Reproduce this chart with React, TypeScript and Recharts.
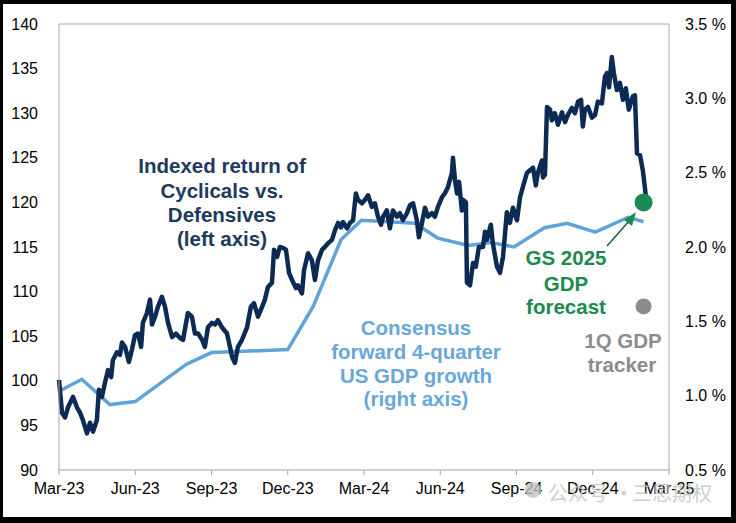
import React from 'react';
import {
  LineChart,
  Line,
  XAxis,
  YAxis,
  ReferenceLine,
  ReferenceDot,
} from 'recharts';

// x values are months since Mar-23
const xTicks = [0, 3, 6, 9, 12, 15, 18, 21, 24];
const xTickLabels = ['Mar-23', 'Jun-23', 'Sep-23', 'Dec-23', 'Mar-24', 'Jun-24', 'Sep-24', 'Dec-24', 'Mar-25'];
const leftTicks = [90, 95, 100, 105, 110, 115, 120, 125, 130, 135, 140];
const rightTicks = [0.5, 1.0, 1.5, 2.0, 2.5, 3.0, 3.5];

// Indexed return of cyclicals vs. defensives (left axis)
const cyclicals: [number, number][] = [
  [0.0, 100.1], [0.12, 96.4], [0.24, 95.9], [0.35, 97.0], [0.55, 98.2], [0.71, 97.0], [0.83, 96.4],
  [0.94, 95.6], [1.1, 94.1], [1.22, 95.3], [1.34, 94.3], [1.49, 95.6], [1.57, 99.0], [1.69, 98.2],
  [1.81, 99.8], [1.93, 101.2], [2.05, 100.4], [2.12, 102.3], [2.28, 103.2], [2.4, 102.9], [2.48, 104.3],
  [2.6, 103.8], [2.75, 102.1], [2.87, 103.5], [2.99, 105.1], [3.11, 105.3], [3.23, 103.8], [3.3, 106.5],
  [3.46, 107.6], [3.58, 109.1], [3.66, 106.3], [3.78, 107.2], [3.89, 108.3], [4.05, 109.4], [4.17, 108.3],
  [4.29, 106.5], [4.45, 104.9], [4.6, 105.3], [4.76, 104.8], [4.88, 104.6], [5.07, 107.6], [5.23, 107.2],
  [5.35, 105.3], [5.47, 105.3], [5.63, 104.6], [5.74, 103.8], [5.86, 106.0], [6.02, 106.5], [6.14, 106.3],
  [6.25, 106.8], [6.41, 106.0], [6.61, 105.3], [6.81, 102.7], [6.92, 102.0], [7.04, 103.8], [7.2, 104.6],
  [7.4, 106.0], [7.55, 108.3], [7.67, 108.7], [7.83, 107.2], [7.99, 108.3], [8.1, 109.1], [8.22, 110.5],
  [8.38, 111.0], [8.46, 114.7], [8.58, 113.9], [8.69, 115.0], [8.81, 114.9], [8.93, 114.7], [9.05, 112.1],
  [9.17, 111.3], [9.32, 110.4], [9.4, 110.7], [9.56, 109.8], [9.64, 112.4], [9.8, 114.3], [9.95, 113.5],
  [10.07, 111.3], [10.19, 113.5], [10.35, 114.7], [10.46, 115.0], [10.58, 115.4], [10.74, 115.8],
  [10.86, 116.9], [10.98, 117.7], [11.09, 117.2], [11.17, 117.8], [11.33, 117.1], [11.45, 117.7],
  [11.57, 118.0], [11.68, 121.0], [11.76, 120.3], [11.92, 119.9], [12.04, 120.3], [12.16, 120.8],
  [12.31, 119.5], [12.43, 119.9], [12.55, 118.4], [12.67, 117.5], [12.75, 118.4], [12.9, 119.1],
  [13.02, 117.1], [13.14, 119.1], [13.3, 118.4], [13.41, 118.8], [13.53, 118.0], [13.69, 118.8],
  [13.81, 119.7], [13.93, 119.9], [14.08, 118.0], [14.16, 116.1], [14.28, 117.7], [14.4, 119.4],
  [14.52, 118.4], [14.67, 118.8], [14.79, 118.4], [14.91, 119.5], [15.07, 120.6], [15.18, 121.0],
  [15.3, 121.7], [15.46, 123.3], [15.5, 125.0], [15.58, 122.5], [15.66, 121.0], [15.74, 122.3],
  [15.85, 119.1], [15.89, 120.3], [16.01, 120.0], [16.05, 111.0], [16.17, 110.7], [16.29, 113.2],
  [16.4, 112.8], [16.52, 115.0], [16.68, 115.0], [16.76, 116.7], [16.84, 115.8], [16.99, 117.5],
  [17.07, 115.4], [17.23, 112.8], [17.35, 112.1], [17.47, 113.9], [17.62, 118.9], [17.74, 117.7],
  [17.86, 119.4], [18.02, 118.0], [18.14, 120.6], [18.25, 121.7], [18.41, 123.3], [18.53, 123.6],
  [18.65, 123.9], [18.76, 121.9], [18.84, 123.3], [19.0, 124.7], [19.04, 122.8], [19.12, 123.1],
  [19.2, 130.7], [19.32, 130.4], [19.39, 129.2], [19.51, 130.0], [19.63, 128.7], [19.79, 130.1],
  [19.91, 129.0], [20.02, 129.8], [20.18, 130.6], [20.3, 130.0], [20.42, 131.3], [20.54, 131.5],
  [20.61, 128.5], [20.69, 130.4], [20.81, 130.7], [20.97, 129.5], [21.09, 129.8], [21.2, 131.3],
  [21.36, 131.1], [21.48, 134.1], [21.56, 134.5], [21.64, 132.9], [21.75, 136.3], [21.83, 134.5],
  [21.95, 132.6], [22.07, 133.4], [22.19, 131.5], [22.3, 132.8], [22.42, 130.4], [22.58, 131.9],
  [22.66, 132.0], [22.74, 125.5], [22.86, 125.3], [22.97, 123.6], [23.05, 121.7], [23.09, 120.6],
];

// Consensus forward 4-quarter US GDP growth, % (right axis)
const consensus: [number, number][] = [
  [0, 1.03], [0.9, 1.11], [2.0, 0.94], [3.0, 0.96], [5.0, 1.21], [6.0, 1.29], [9.0, 1.31],
  [10.0, 1.6], [11.1, 2.05], [11.9, 2.18], [14.0, 2.16], [14.9, 2.06], [16.1, 2.01], [17.0, 2.03],
  [17.9, 2.0], [19.1, 2.13], [20.0, 2.16], [21.1, 2.1], [22.4, 2.2], [23.0, 2.17],
];

const gsForecast = { t: 23.0, v: 2.3 };
const gdpTracker = { t: 23.0, v: 1.6 };

const NAVY = '#0c2b54';
const LIGHT_BLUE = '#5fa3d8';
const GREEN = '#1a8a4e';
const GREY = '#8c8c8c';
const AXIS = '#a6a6a6';
const FONT = '"Liberation Sans", Arial, sans-serif';

const cycData = cyclicals.map(([t, v]) => ({ t, v }));
const gdpData = consensus.map(([t, v]) => ({ t, v }));

const labelFor = (t: number) => xTickLabels[xTicks.indexOf(t)] ?? '';

// annotation texts, arrow and the watermark sit on top of the chart
const Notes = () => (
  <svg
    width={736}
    height={523}
    style={{ position: 'absolute', left: 0, top: 0, pointerEvents: 'none' }}
    fontFamily={FONT}
    fontWeight="bold"
    fontSize={20.5}
    textAnchor="middle"
  >
    <g fill="#1b3a5e">
      <text x={222} y={173}>Indexed return of</text>
      <text x={222} y={198}>Cyclicals vs.</text>
      <text x={222} y={222}>Defensives</text>
      <text x={222} y={246}>(left axis)</text>
    </g>
    <g fill="#6aa7d8">
      <text x={416} y={335}>Consensus</text>
      <text x={416} y={359}>forward 4-quarter</text>
      <text x={416} y={383}>US GDP growth</text>
      <text x={416} y={406}>(right axis)</text>
    </g>
    <g fill={GREEN}>
      <text x={566} y={265}>GS 2025</text>
      <text x={566} y={291}>GDP</text>
      <text x={566} y={314}>forecast</text>
    </g>
    <g fill={GREY}>
      <text x={623} y={348}>1Q GDP</text>
      <text x={622} y={372}>tracker</text>
    </g>
    <line x1={607} y1={246} x2={630} y2={220} stroke="#1f5a3a" strokeWidth={1.5} />
    <polygon points="636,212 624,220 632,226" fill={GREEN} />
    <g fill="#c2c2c2" opacity={0.8} fontWeight="normal" fontSize={20} textAnchor="start" fontFamily='"Noto Sans CJK SC", sans-serif'>
      <circle cx={533} cy={490} r={8} />
      <text x={548} y={501}>公众号</text>
      <text x={614} y={501}>·</text>
      <text x={632} y={501}>三思期权</text>
    </g>
  </svg>
);

export default function App() {
  return (
    <div style={{ position: 'absolute', left: 0, top: 0, width: 736, height: 523, background: '#000' }}>
      <div style={{ position: 'absolute', left: 3, top: 4, width: 728, height: 513, background: '#fff' }} />
      <div style={{ position: 'absolute', left: 0, top: 0 }}>
        <LineChart width={736} height={523} margin={{ top: 24, right: 7, bottom: 23, left: 9 }}>
          <XAxis
            dataKey="t"
            type="number"
            domain={[0, 24]}
            ticks={xTicks}
            tickFormatter={labelFor}
            height={30}
            stroke={AXIS}
            tickSize={5}
            tickMargin={8}
            tick={{ fill: '#000', fontSize: 16, fontFamily: FONT }}
            allowDuplicatedCategory={false}
          />
          <YAxis
            yAxisId="left"
            domain={[90, 140]}
            ticks={leftTicks}
            width={50}
            stroke={AXIS}
            tickLine={false}
            tickSize={6}
            tickMargin={15}
            tick={{ fill: '#000', fontSize: 16, fontFamily: FONT }}
          />
          <YAxis
            yAxisId="right"
            orientation="right"
            domain={[0.5, 3.5]}
            ticks={rightTicks}
            width={60}
            stroke={AXIS}
            tickLine={false}
            tickSize={6}
            tickMargin={10}
            tickFormatter={(v: number) => `${v.toFixed(1)} %`}
            tick={{ fill: '#000', fontSize: 16, fontFamily: FONT }}
          />
          <ReferenceLine yAxisId="left" y={140} stroke={AXIS} strokeWidth={1} />
          <Line
            yAxisId="right"
            data={gdpData}
            dataKey="v"
            type="linear"
            stroke={LIGHT_BLUE}
            strokeWidth={3.5}
            dot={false}
            isAnimationActive={false}
          />
          <Line
            yAxisId="left"
            data={cycData}
            dataKey="v"
            type="linear"
            stroke={NAVY}
            strokeWidth={4.5}
            strokeLinejoin="round"
            dot={false}
            isAnimationActive={false}
          />
          <ReferenceDot yAxisId="right" x={gsForecast.t} y={gsForecast.v} r={9} fill={GREEN} stroke="none" />
          <ReferenceDot yAxisId="right" x={gdpTracker.t} y={gdpTracker.v} r={8} fill={GREY} stroke="none" />
        </LineChart>
      </div>
      <Notes />
    </div>
  );
}
